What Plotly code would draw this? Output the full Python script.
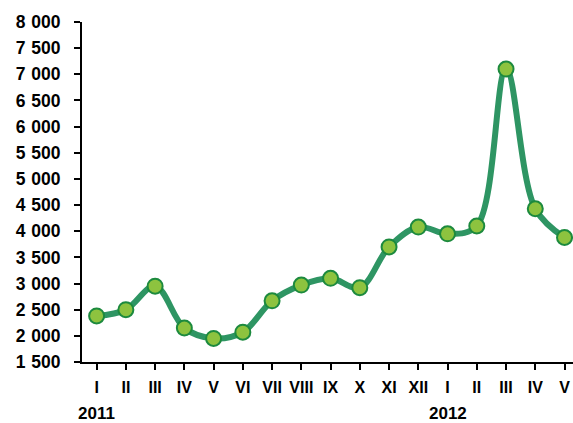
import plotly.graph_objects as go

categories = ["I", "II", "III", "IV", "V", "VI", "VII", "VIII", "IX", "X", "XI", "XII",
              "I ", "II ", "III ", "IV ", "V "]
values = [2380, 2500, 2950, 2150, 1950, 2070, 2670, 2970, 3100, 2920, 3700, 4080,
          3950, 4100, 7100, 4430, 3880]
years = ["2011", "2012"]
year_positions = [0, 12]
y_ticks = [1500, 2000, 2500, 3000, 3500, 4000, 4500, 5000, 5500, 6000, 6500, 7000, 7500, 8000]
y_tick_labels = ["1 500", "2 000", "2 500", "3 000", "3 500", "4 000", "4 500",
                 "5 000", "5 500", "6 000", "6 500", "7 000", "7 500", "8 000"]

FONT = "Liberation Sans, Arial, sans-serif"

fig = go.Figure()
fig.add_trace(go.Scatter(
    x=list(range(len(values))), y=values,
    mode="lines+markers",
    line=dict(color="#2E9563", width=6, shape="spline", smoothing=1),
    marker=dict(size=15, color="#8DC33F", line=dict(color="#1C8A3E", width=2)),
    cliponaxis=False,
    showlegend=False,
    hoverinfo="skip",
))

for yr, pos in zip(years, year_positions):
    fig.add_annotation(x=pos, y=0, yref="paper", yshift=-51, text=yr,
                       showarrow=False, xanchor="center", yanchor="middle",
                       font=dict(size=17, color="black", family=FONT, weight="bold"))

fig.update_layout(
    width=573, height=423,
    margin=dict(l=82, r=0, t=22, b=61),
    paper_bgcolor="white", plot_bgcolor="white",
    font=dict(family=FONT, size=16, color="black", weight="bold"),
)
fig.update_xaxes(
    range=[-0.5, 16.29],
    tickmode="array",
    tickvals=list(range(len(categories))),
    ticktext=[c.strip() for c in categories],
    showline=True, linecolor="black", linewidth=2,
    ticks="outside", ticklen=6, tickwidth=2, tickcolor="black",
    showgrid=False, zeroline=False,
    ticklabelstandoff=4,
    tickfont=dict(size=16),
)
fig.update_yaxes(
    range=[1500, 8000],
    tickmode="array", tickvals=y_ticks,
    ticktext=[t.replace(" ", "\u2004") for t in y_tick_labels],
    showline=True, linecolor="black", linewidth=2,
    ticks="outside", ticklen=6, tickwidth=2, tickcolor="black",
    showgrid=False, zeroline=False,
    ticklabelstandoff=10,
    tickfont=dict(size=17.5),
)

fig.write_html(
    "out.html",
    config={"displayModeBar": False, "staticPlot": True},
    post_script="document.body.style.margin='0';document.body.style.overflow='hidden';",
)
